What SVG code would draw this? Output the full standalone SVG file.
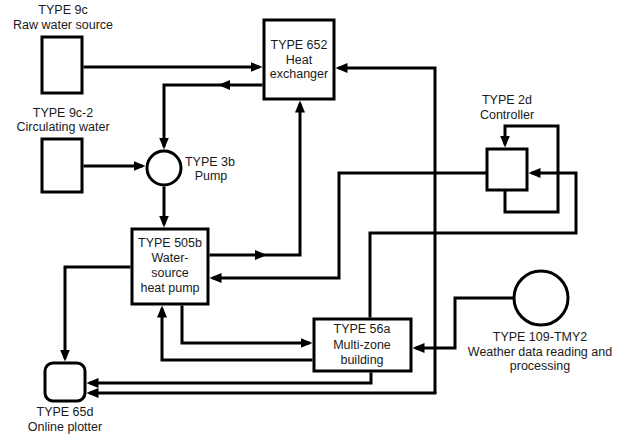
<svg xmlns="http://www.w3.org/2000/svg" width="624" height="434" viewBox="0 0 624 434">
<style>
.n{fill:#fff;stroke:#000;stroke-width:3}
.c{fill:none;stroke:#000;stroke-width:3;stroke-linejoin:miter}
.a{marker-end:url(#ah)}
text{font-family:"Liberation Sans",Arial,sans-serif;font-size:12.5px;fill:#1a1a1a;text-anchor:middle}
</style>
<defs>
<marker id="ah" viewBox="0 0 12 10" refX="9" refY="5" markerWidth="12" markerHeight="10" markerUnits="userSpaceOnUse" orient="auto">
<path d="M0,0 L12,5 L0,10 z" fill="#000"/>
</marker>
</defs>
<rect width="624" height="434" fill="#fff"/>
<g id="connectors">
<path class="c a" d="M83.5,67 H259.5"/>
<path class="c a" d="M262.5,85 H221"/>
<path class="c a" d="M221,85 H164 V146.5"/>
<path class="c a" d="M83.5,166 H142.5"/>
<path class="c a" d="M164,186.5 V224.5"/>
<path class="c a" d="M209.5,255 H264"/>
<path class="c a" d="M264,255 H300 V103.5"/>
<path class="c a" d="M487,173 H339 V278 H212.5"/>
<path class="c a" d="M435,393 V68 H338.5"/>
<path class="c a" d="M436.5,393 H89.5"/>
<path class="c a" d="M371,372.5 V383 H89.5"/>
<path class="c a" d="M182,305.5 V343 H309.5"/>
<path class="c a" d="M312.5,360 H162 V308.5"/>
<path class="c a" d="M370,317.5 V233 H576 V173 H531.5"/>
<path class="c a" d="M505,190.5 V212 H558 V126 H505 V144.5"/>
<path class="c a" d="M130.5,267 H65 V358.5"/>
<path class="c a" d="M514,298 H455 V348 H415.5"/>
</g>
<g id="type9c">
<rect class="n" x="42" y="37" width="40" height="56"/>
<text x="63" y="14">TYPE 9c</text>
<text x="63" y="29">Raw water source</text>
</g>
<g id="type9c2">
<rect class="n" x="42" y="139" width="40" height="53"/>
<text x="63" y="117">TYPE 9c-2</text>
<text x="63" y="131">Circulating water</text>
</g>
<g id="type652">
<rect class="n" x="264" y="20" width="70" height="79"/>
<text x="299" y="49">TYPE 652</text>
<text x="299" y="64">Heat</text>
<text x="299" y="78">exchanger</text>
</g>
<g id="type3b">
<circle class="n" cx="164" cy="168" r="17"/>
<text x="210" y="166">TYPE 3b</text>
<text x="211" y="180">Pump</text>
</g>
<g id="type505b">
<rect class="n" x="132" y="229" width="76" height="75"/>
<text x="170" y="247">TYPE 505b</text>
<text x="170" y="262">Water-</text>
<text x="170" y="277">source</text>
<text x="170" y="292">heat pump</text>
</g>
<g id="type56a">
<rect class="n" x="314" y="319" width="97" height="52"/>
<text x="362" y="333">TYPE 56a</text>
<text x="362" y="349">Multi-zone</text>
<text x="362" y="364">building</text>
</g>
<g id="type2d">
<rect class="n" x="487" y="149" width="40" height="41"/>
<text x="507" y="104">TYPE 2d</text>
<text x="507" y="119">Controller</text>
</g>
<g id="type109">
<circle class="n" cx="541" cy="298" r="27"/>
<text x="540" y="341">TYPE 109-TMY2</text>
<text x="540" y="356">Weather data reading and</text>
<text x="540" y="370">processing</text>
</g>
<g id="type65d">
<rect class="n" x="45" y="363" width="40" height="38" rx="8"/>
<text x="65" y="416">TYPE 65d</text>
<text x="65" y="431">Online plotter</text>
</g>
</svg>
